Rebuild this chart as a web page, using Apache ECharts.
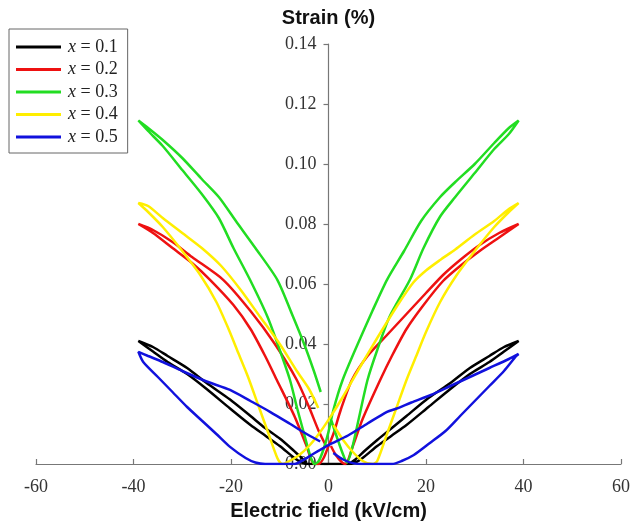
<!DOCTYPE html>
<html>
<head>
<meta charset="utf-8">
<script src="https://cdn.jsdelivr.net/npm/echarts@6/dist/echarts.min.js"></script>
<style>
  html, body { margin: 0; padding: 0; background: #fff; }
  #chart { width: 632px; height: 523px; }
</style>
</head>
<body>
<div id="chart"></div>
<script>
// Strain vs electric field butterfly loops, one closed sweep per composition.
// Each point is [field (kV/cm), strain (%)].
const seriesNames = ['x = 0.1', 'x = 0.2', 'x = 0.3', 'x = 0.4', 'x = 0.5'];
const seriesColors = ['#000000', '#ee1111', '#22dd22', '#ffee00', '#1111dd'];

const xTicks = [-60, -40, -20, 0, 20, 40, 60];
const yTicks = [0, 0.02, 0.04, 0.06, 0.08, 0.10, 0.12, 0.14];

const loopX01 = [
  [0, 0], [2, 0], [4, 0], [5.5, 0.0005], [7, 0.002], [10, 0.006], [13, 0.0095], [16, 0.013],
  [20.5, 0.019], [25, 0.025], [29, 0.03], [33, 0.034], [36, 0.0375], [39, 0.041],
  [36, 0.039], [33, 0.036], [29, 0.032], [25, 0.027], [20.5, 0.022], [16, 0.016], [13, 0.012],
  [10, 0.008], [7.5, 0.0045], [5.5, 0.0015], [4, 0], [2, 0], [0, 0], [-2, 0], [-4, 0],
  [-5.5, 0.0005], [-7, 0.002], [-10, 0.006], [-13, 0.0095], [-16, 0.013], [-20.2, 0.0185],
  [-25, 0.025], [-29, 0.03], [-33, 0.034], [-36, 0.0375], [-39, 0.041],
  [-36, 0.039], [-33, 0.036], [-29, 0.032], [-25, 0.027], [-20.2, 0.0215], [-16, 0.016],
  [-13, 0.012], [-10, 0.0085], [-7.5, 0.005], [-5.5, 0.002], [-4.5, 0.0005]
];

const loopX02 = [
  [0.5, 0.006], [1.5, 0.003], [2.8, 0.0005], [3.5, 0], [5, 0.006], [7, 0.015], [10.6, 0.028],
  [13, 0.036], [16, 0.045], [19.5, 0.053], [23.5, 0.061], [27, 0.066], [31, 0.071], [35, 0.0755], [39, 0.080],
  [35, 0.077], [31, 0.073], [27, 0.068], [23.5, 0.063], [20, 0.057], [16, 0.05], [12, 0.043],
  [8, 0.036], [4.8, 0.028], [2.5, 0.018], [1, 0.01], [0, 0.006], [-1, 0.002], [-2, 0],
  [-3, 0], [-4.5, 0.006], [-7, 0.016], [-10.6, 0.028], [-13, 0.036], [-16, 0.045], [-19.5, 0.053],
  [-24.3, 0.0614], [-28, 0.067], [-32, 0.072], [-36, 0.077], [-39, 0.080],
  [-36, 0.078], [-32, 0.074], [-28, 0.069], [-21.6, 0.0614], [-16, 0.051], [-11, 0.04],
  [-6.5, 0.028], [-4, 0.019], [-2, 0.011], [-0.5, 0.006]
];

const loopX03 = [
  [0.3, 0.016], [1.5, 0.01], [2.8, 0.004], [3.8, 0.0005], [4.8, 0.005], [6.2, 0.015], [8, 0.028],
  [10, 0.038], [12.5, 0.049], [16.7, 0.0614], [19.5, 0.072], [22.9, 0.0825], [26, 0.089], [30, 0.097],
  [34, 0.105], [37, 0.11], [39, 0.1145],
  [37, 0.112], [34, 0.107], [30, 0.1], [26, 0.094], [22.9, 0.089], [19, 0.081], [15.5, 0.071],
  [12, 0.0614], [9, 0.051], [6, 0.04], [2.9, 0.028], [1, 0.018], [0, 0.0107], [-1, 0.005],
  [-2, 0.001], [-2.8, 0],
  [-3.6, 0.002], [-5, 0.01], [-6.5, 0.019], [-7.9, 0.028], [-10, 0.038], [-12.5, 0.049],
  [-16.1, 0.0614], [-19.5, 0.072], [-22.5, 0.082], [-26, 0.09], [-30, 0.098], [-34, 0.106],
  [-37, 0.111], [-39, 0.1145],
  [-37, 0.112], [-34, 0.108], [-30, 0.102], [-26, 0.095], [-22.5, 0.089], [-19, 0.081],
  [-15, 0.072], [-10.5, 0.0614], [-7.5, 0.05], [-5, 0.04], [-3, 0.031], [-1.6, 0.024]
];

const loopX04 = [
  [1, 0.013], [3, 0.008], [5, 0.004], [7, 0.001], [9, 0],
  [10, 0.001], [12, 0.01], [14, 0.019], [16, 0.028], [18, 0.036], [20, 0.044], [22.9, 0.054],
  [26.3, 0.063], [30, 0.071], [34, 0.079], [37, 0.084], [39, 0.087],
  [37, 0.085], [34, 0.081], [30, 0.0765], [26, 0.0715], [22.9, 0.068], [20, 0.0645], [17.4, 0.0605],
  [14, 0.0525], [10, 0.042], [6, 0.031], [3, 0.0225], [0, 0.0147], [-2, 0.01], [-4, 0.006],
  [-6, 0.003], [-8, 0.001], [-9.5, 0],
  [-10.5, 0.002], [-12.5, 0.011], [-14.5, 0.02], [-16.5, 0.029], [-18.5, 0.037], [-20.5, 0.045],
  [-23, 0.054], [-26.3, 0.063], [-30, 0.071], [-34, 0.079], [-37, 0.084], [-39, 0.087],
  [-37, 0.086], [-34, 0.082], [-30, 0.077], [-26, 0.072], [-22, 0.066], [-18, 0.058],
  [-14, 0.049], [-10, 0.04], [-6.5, 0.031], [-4, 0.025], [-2.1, 0.0187]
];

const loopX05 = [
  [1, 0.0037], [3, 0.0015], [5, 0.0003], [7, 0], [10, 0], [13, 0], [15, 0.001], [17.5, 0.003],
  [20.8, 0.007], [24, 0.011], [27, 0.016], [30, 0.021], [33, 0.026], [36, 0.031], [38.5, 0.036], [39, 0.0367],
  [37, 0.035], [33, 0.032], [29, 0.029], [25, 0.026], [21, 0.023], [17, 0.0205], [14, 0.0185],
  [12, 0.0174], [8, 0.0135], [4, 0.0095], [0, 0.0063], [-3, 0.0035], [-5.2, 0.0013], [-7, 0],
  [-10, 0], [-13, 0], [-15, 0.0005],
  [-17, 0.002], [-20.2, 0.0057], [-23, 0.01], [-26, 0.0145], [-29, 0.019], [-32, 0.024],
  [-35, 0.029], [-38, 0.034], [-39, 0.0374],
  [-37, 0.036], [-34, 0.034], [-30, 0.031], [-25, 0.0275], [-20.2, 0.0247], [-16, 0.021],
  [-12, 0.0174], [-8, 0.0135], [-5, 0.0105], [-1.7, 0.0075]
];

const loops = [loopX01, loopX02, loopX03, loopX04, loopX05];

const serifFont = '"Liberation Serif", "Times New Roman", serif';
const sansFont = '"Liberation Sans", Arial, sans-serif';

// Plot area in pixels; the strain axis sits on field = 0, half way across.
const gridLeft = 36;
const gridRight = 11;
const plotWidth = 632 - gridLeft - gridRight;
const yAxisShift = -plotWidth / 2;

const chart = echarts.init(document.getElementById('chart'), null, { renderer: 'canvas' });

chart.setOption({
  animation: false,
  backgroundColor: '#ffffff',
  grid: { left: gridLeft, right: gridRight, top: 44, bottom: 59, containLabel: false, outerBoundsMode: 'none' },
  legend: {
    left: 9,
    top: 29,
    orient: 'vertical',
    backgroundColor: '#ffffff',
    borderColor: '#666666',
    borderWidth: 1,
    padding: [9, 10, 7, 7],
    itemWidth: 45,
    itemHeight: 3,
    itemGap: 4.5,
    icon: 'rect',
    data: seriesNames,
    formatter: function (name) {
      return '{i|x}{t|' + name.slice(1) + '}';
    },
    textStyle: {
      fontFamily: serifFont,
      fontSize: 18,
      color: '#222',
      lineHeight: 18,
      padding: [0, 0, 0, 2],
      rich: {
        i: { fontFamily: serifFont, fontStyle: 'italic', fontSize: 18, color: '#222', lineHeight: 18 },
        t: { fontFamily: serifFont, fontSize: 18, color: '#222', lineHeight: 18 }
      }
    }
  },
  xAxis: {
    type: 'value',
    min: xTicks[0],
    max: xTicks[xTicks.length - 1],
    interval: 20,
    name: 'Electric field (kV/cm)',
    nameLocation: 'middle',
    nameGap: 37,
    nameTextStyle: { fontFamily: sansFont, fontWeight: 'bold', fontSize: 20, color: '#111' },
    axisLine: { onZero: false, lineStyle: { color: '#777', width: 1.2 } },
    axisTick: { inside: true, length: 5, lineStyle: { color: '#777', width: 1.2 } },
    axisLabel: { fontFamily: serifFont, fontSize: 18, color: '#333', margin: 14 },
    splitLine: { show: false }
  },
  yAxis: {
    type: 'value',
    position: 'left',
    offset: yAxisShift,
    min: yTicks[0],
    max: yTicks[yTicks.length - 1],
    interval: 0.02,
    name: 'Strain (%)',
    nameLocation: 'end',
    nameGap: 16,
    nameTextStyle: { fontFamily: sansFont, fontWeight: 'bold', fontSize: 20, color: '#111' },
    axisLine: { onZero: false, lineStyle: { color: '#777', width: 1.2 } },
    axisTick: { inside: false, length: 5, lineStyle: { color: '#777', width: 1.2 } },
    axisLabel: {
      fontFamily: serifFont, fontSize: 18, color: '#333', margin: 12,
      formatter: function (v) { return v.toFixed(2); }
    },
    splitLine: { show: false }
  },
  series: loops.map(function (pts, i) {
    return {
      name: seriesNames[i],
      type: 'line',
      data: pts,
      showSymbol: false,
      symbol: 'none',
      smooth: 0.25,
      color: seriesColors[i],
      lineStyle: { color: seriesColors[i], width: 2.5 },
      z: 2 + i
    };
  })
});
</script>
</body>
</html>
